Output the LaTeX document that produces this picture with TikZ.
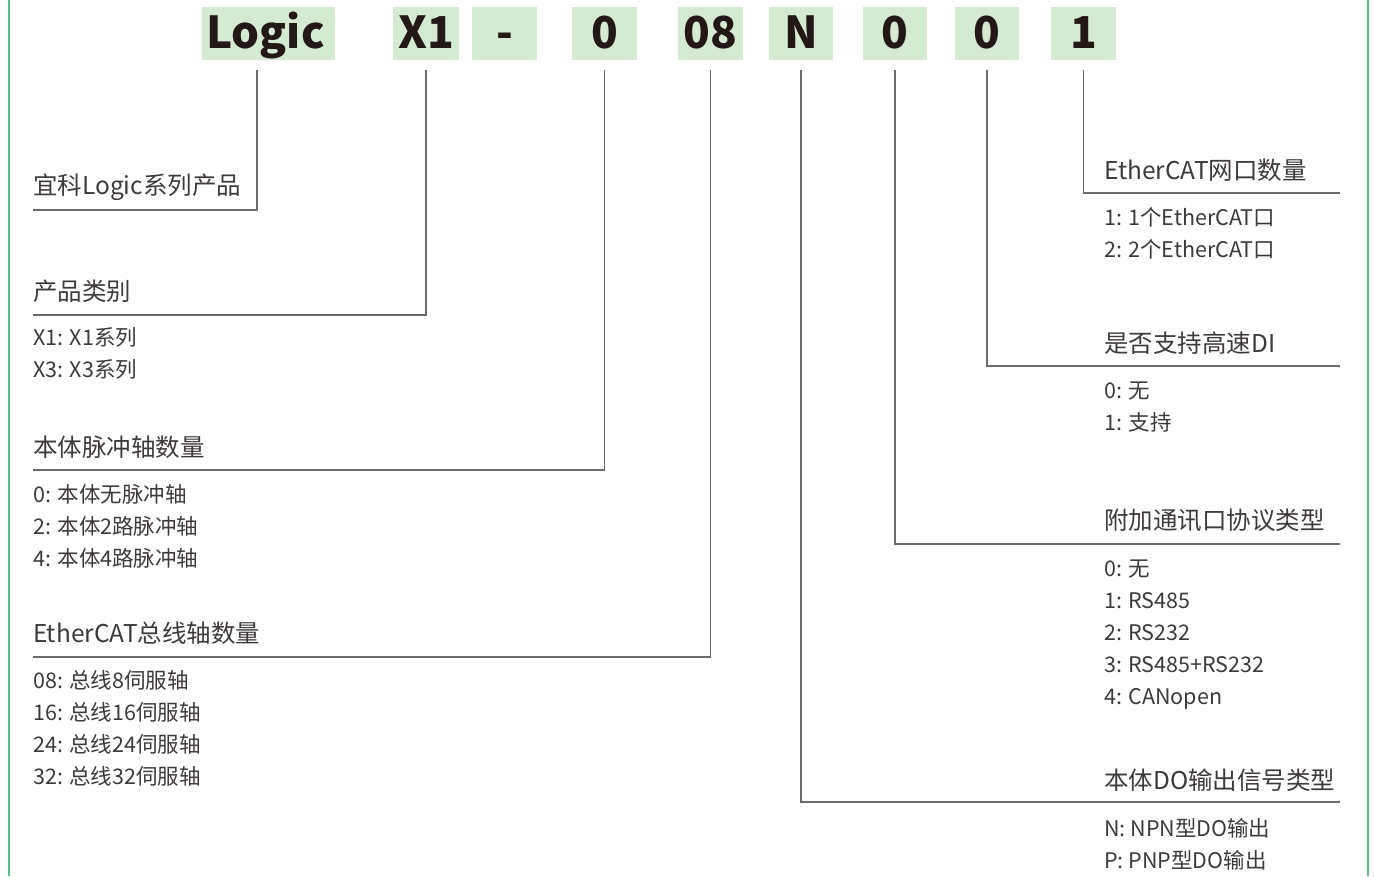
\documentclass[tikz,border=0pt]{standalone}
\usepackage{fontspec}
\setmainfont{Noto Sans CJK SC}
\definecolor{boxfill}{HTML}{D5EAD2}
\definecolor{boxtext}{HTML}{231815}
\definecolor{bodytext}{HTML}{3E3A39}
\definecolor{connline}{HTML}{6E6A6A}
\definecolor{framegreen}{HTML}{5BBF82}
\tikzset{
  codebox/.style={fill=boxfill, inner sep=0pt, minimum height=53pt, text height=29pt, text depth=0pt,
    text=boxtext, font=\fontsize{44}{50}\selectfont\bfseries},
  conn/.style={draw=connline, line width=1.3pt},
  titletext/.style={anchor=base west, inner sep=0pt, text=bodytext, font=\fontsize{24.5}{28}\selectfont},
  itemtext/.style={anchor=base west, inner sep=0pt, text=bodytext, font=\fontsize{21.5}{26}\selectfont},
  frameline/.style={draw=framegreen, line width=2pt}
}
\begin{document}
\begin{tikzpicture}[x=1pt,y=-1pt]
\useasboundingbox (0,0) rectangle (1374,876);
% side frame
\coordinate (fl1) at (9,0); \coordinate (fl2) at (9,876);
\coordinate (fr1) at (1368,0); \coordinate (fr2) at (1368,876);
\draw[frameline] (fl1) -- (fl2);
\draw[frameline] (fr1) -- (fr2);
% code boxes
\node[codebox, minimum width=133pt] (b1) at (268.5,33.5) {Logic\kern6pt};
\node[codebox, minimum width=66pt] (b2) at (426,33.5) {X1};
\node[codebox, minimum width=65pt] (bd) at (504.5,33.5) {-};
\node[codebox, minimum width=65pt] (b3) at (604.5,33.5) {0};
\node[codebox, minimum width=65pt] (b4) at (710.5,33.5) {08};
\node[codebox, minimum width=64pt] (b5) at (801,33.5) {N};
\node[codebox, minimum width=64pt] (b6) at (895,33.5) {0};
\node[codebox, minimum width=64pt] (b7) at (987,33.5) {0};
\node[codebox, minimum width=65pt] (b8) at (1083.5,33.5) {1};
% connector ends
\coordinate (e1) at (33,210);
\coordinate (e2) at (33,315);
\coordinate (e3) at (33,470);
\coordinate (e4) at (33,657);
\coordinate (e5) at (1340,802);
\coordinate (e6) at (1340,544);
\coordinate (e7) at (1340,366);
\coordinate (e8) at (1340,193);
\draw[conn] ([xshift=-11.5pt,yshift=-10pt]b1.south) |- (e1);
\draw[conn] ([yshift=-10pt]b2.south) |- (e2);
\draw[conn] ([yshift=-10pt]b3.south) |- (e3);
\draw[conn] ([yshift=-10pt]b4.south) |- (e4);
\draw[conn] ([yshift=-10pt]b5.south) |- (e5);
\draw[conn] ([yshift=-10pt]b6.south) |- (e6);
\draw[conn] ([yshift=-10pt]b7.south) |- (e7);
\draw[conn] ([yshift=-10pt]b8.south) |- (e8);
% left texts
\node[titletext] (t1) at (33,194) {宜科Logic系列产品};
\node[titletext] (t2) at (33,300) {产品类别};
\node[itemtext] (i21) at (33,345) {X1: X1系列};
\node[itemtext] (i22) at (33,377) {X3: X3系列};
\node[titletext] (t3) at (33,456) {本体脉冲轴数量};
\node[itemtext] (i31) at (33,502) {0: 本体无脉冲轴};
\node[itemtext] (i32) at (33,534) {2: 本体2路脉冲轴};
\node[itemtext] (i33) at (33,566) {4: 本体4路脉冲轴};
\node[titletext] (t4) at (33,642) {EtherCAT总线轴数量};
\node[itemtext] (i41) at (33,688) {08: 总线8伺服轴};
\node[itemtext] (i42) at (33,720) {16: 总线16伺服轴};
\node[itemtext] (i43) at (33,752) {24: 总线24伺服轴};
\node[itemtext] (i44) at (33,784) {32: 总线32伺服轴};
% right texts
\node[titletext] (t8) at (1104,179) {EtherCAT网口数量};
\node[itemtext] (i81) at (1104,225) {1: 1个EtherCAT口};
\node[itemtext] (i82) at (1104,257) {2: 2个EtherCAT口};
\node[titletext] (t7) at (1104,352) {是否支持高速DI};
\node[itemtext] (i71) at (1104,398) {0: 无};
\node[itemtext] (i72) at (1104,430) {1: 支持};
\node[titletext] (t6) at (1104,529) {附加通讯口协议类型};
\node[itemtext] (i61) at (1104,576) {0: 无};
\node[itemtext] (i62) at (1104,608) {1: RS485};
\node[itemtext] (i63) at (1104,640) {2: RS232};
\node[itemtext] (i64) at (1104,672) {3: RS485+RS232};
\node[itemtext] (i65) at (1104,704) {4: CANopen};
\node[titletext] (t5) at (1104,789) {本体DO输出信号类型};
\node[itemtext] (i51) at (1104,836) {N: NPN型DO输出};
\node[itemtext] (i52) at (1104,868) {P: PNP型DO输出};
\end{tikzpicture}
\end{document}
